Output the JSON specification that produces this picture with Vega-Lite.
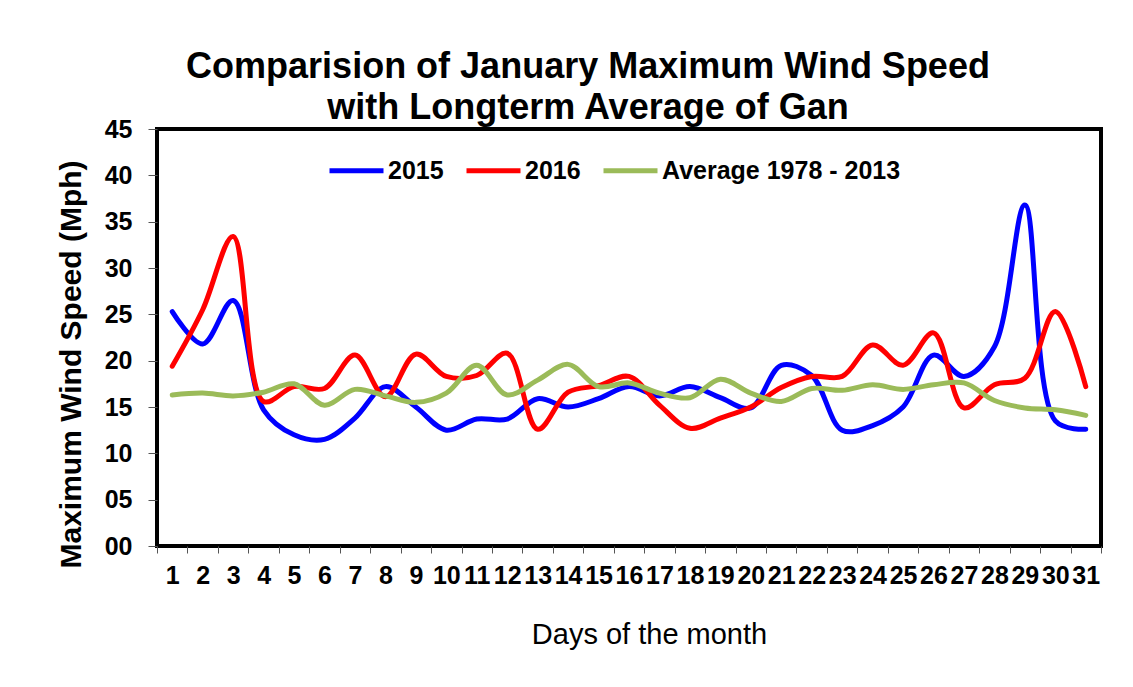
{
  "$schema": "https://vega.github.io/schema/vega-lite/v6.json",
  "width": 944,
  "height": 417,
  "autosize": {"type": "none"},
  "padding": {"left": 157, "top": 129, "right": 32, "bottom": 141},
  "background": "white",
  "title": {
    "text": ["Comparision of January Maximum Wind Speed", "with Longterm Average of Gan"],
    "font": "Liberation Sans",
    "fontSize": 36,
    "fontWeight": "bold",
    "color": "black",
    "lineHeight": 41,
    "anchor": "middle",
    "dx": -41,
    "offset": -10
  },
  "data": {
    "values": [
      {"day": 1, "2015": 25.3, "2016": 19.4, "Average 1978 - 2013": 16.3},
      {"day": 2, "2015": 21.8, "2016": 25.5, "Average 1978 - 2013": 16.5},
      {"day": 3, "2015": 26.5, "2016": 33.4, "Average 1978 - 2013": 16.2},
      {"day": 4, "2015": 14.7, "2016": 15.6, "Average 1978 - 2013": 16.6},
      {"day": 5, "2015": 12.0, "2016": 17.2, "Average 1978 - 2013": 17.5},
      {"day": 6, "2015": 11.5, "2016": 17.0, "Average 1978 - 2013": 15.2},
      {"day": 7, "2015": 13.8, "2016": 20.6, "Average 1978 - 2013": 16.9},
      {"day": 8, "2015": 17.2, "2016": 16.1, "Average 1978 - 2013": 16.2},
      {"day": 9, "2015": 15.0, "2016": 20.7, "Average 1978 - 2013": 15.5},
      {"day": 10, "2015": 12.5, "2016": 18.3, "Average 1978 - 2013": 16.5},
      {"day": 11, "2015": 13.7, "2016": 18.4, "Average 1978 - 2013": 19.5},
      {"day": 12, "2015": 13.7, "2016": 20.8, "Average 1978 - 2013": 16.3},
      {"day": 13, "2015": 15.9, "2016": 12.6, "Average 1978 - 2013": 17.9},
      {"day": 14, "2015": 15.0, "2016": 16.6, "Average 1978 - 2013": 19.6},
      {"day": 15, "2015": 15.9, "2016": 17.3, "Average 1978 - 2013": 17.2},
      {"day": 16, "2015": 17.2, "2016": 18.3, "Average 1978 - 2013": 17.6},
      {"day": 17, "2015": 16.2, "2016": 15.2, "Average 1978 - 2013": 16.5},
      {"day": 18, "2015": 17.2, "2016": 12.7, "Average 1978 - 2013": 16.0},
      {"day": 19, "2015": 16.0, "2016": 13.8, "Average 1978 - 2013": 18.0},
      {"day": 20, "2015": 14.9, "2016": 15.0, "Average 1978 - 2013": 16.5},
      {"day": 21, "2015": 19.5, "2016": 17.1, "Average 1978 - 2013": 15.6},
      {"day": 22, "2015": 18.4, "2016": 18.3, "Average 1978 - 2013": 17.0},
      {"day": 23, "2015": 12.5, "2016": 18.3, "Average 1978 - 2013": 16.8},
      {"day": 24, "2015": 13.0, "2016": 21.7, "Average 1978 - 2013": 17.4},
      {"day": 25, "2015": 15.0, "2016": 19.5, "Average 1978 - 2013": 16.9},
      {"day": 26, "2015": 20.6, "2016": 23.0, "Average 1978 - 2013": 17.4},
      {"day": 27, "2015": 18.3, "2016": 14.9, "Average 1978 - 2013": 17.6},
      {"day": 28, "2015": 21.5, "2016": 17.4, "Average 1978 - 2013": 15.7},
      {"day": 29, "2015": 36.8, "2016": 18.1, "Average 1978 - 2013": 14.9},
      {"day": 30, "2015": 13.5, "2016": 25.3, "Average 1978 - 2013": 14.7},
      {"day": 31, "2015": 12.6, "2016": 17.2, "Average 1978 - 2013": 14.1}
    ]
  },
  "transform": [
    {"fold": ["2015", "2016", "Average 1978 - 2013"], "as": ["series", "speed"]}
  ],
  "mark": {"type": "line", "interpolate": "catmull-rom", "strokeWidth": 5, "strokeCap": "round"},
  "encoding": {
    "x": {
      "field": "day",
      "type": "ordinal",
      "scale": {"type": "band", "paddingInner": 0, "paddingOuter": 0},
      "axis": {
        "title": "Days of the month",
        "titleFont": "Liberation Sans",
        "titleFontSize": 29,
        "titleFontWeight": "normal",
        "titleColor": "black",
        "titleX": 492,
        "titleY": 97,
        "titleBaseline": "alphabetic",
        "titleAlign": "center",
        "labelAngle": 0,
        "labelFont": "Liberation Sans",
        "labelFontSize": 25,
        "labelFontWeight": "bold",
        "labelColor": "black",
        "labelPadding": 10,
        "labelOverlap": false,
        "labelBound": false,
        "labelFlush": false,
        "tickBand": "extent",
        "tickSize": 7,
        "tickColor": "#555555",
        "tickWidth": 1,
        "domain": false,
        "grid": false
      }
    },
    "y": {
      "field": "speed",
      "type": "quantitative",
      "scale": {"domain": [0, 45], "nice": false},
      "axis": {
        "title": "Maximum Wind Speed (Mph)",
        "titleFont": "Liberation Sans",
        "titleFontSize": 30,
        "titleFontWeight": "bold",
        "titleColor": "black",
        "titleX": -77,
        "titleY": 235,
        "titleAngle": -90,
        "titleAlign": "center",
        "titleBaseline": "alphabetic",
        "values": [0, 5, 10, 15, 20, 25, 30, 35, 40, 45],
        "format": "02d",
        "labelFont": "Liberation Sans",
        "labelFontSize": 25,
        "labelFontWeight": "bold",
        "labelColor": "black",
        "labelPadding": 16,
        "labelFlush": false,
        "tickSize": 9,
        "tickColor": "#555555",
        "tickWidth": 1,
        "domain": false,
        "grid": false
      }
    },
    "color": {
      "field": "series",
      "type": "nominal",
      "scale": {
        "domain": ["2015", "2016", "Average 1978 - 2013"],
        "range": ["#0000FF", "#FF0000", "#9BBB59"]
      },
      "legend": {
        "title": null,
        "orient": "none",
        "legendX": 170,
        "legendY": 12,
        "direction": "horizontal",
        "columns": 3,
        "symbolType": "stroke",
        "symbolSize": 2916,
        "symbolStrokeWidth": 5,
        "labelFont": "Liberation Sans",
        "labelFontSize": 25,
        "labelFontWeight": "bold",
        "labelColor": "black",
        "labelOffset": 2,
        "columnPadding": 12,
        "labelLimit": 400
      }
    }
  },
  "config": {
    "view": {"stroke": "black", "strokeWidth": 4}
  }
}
